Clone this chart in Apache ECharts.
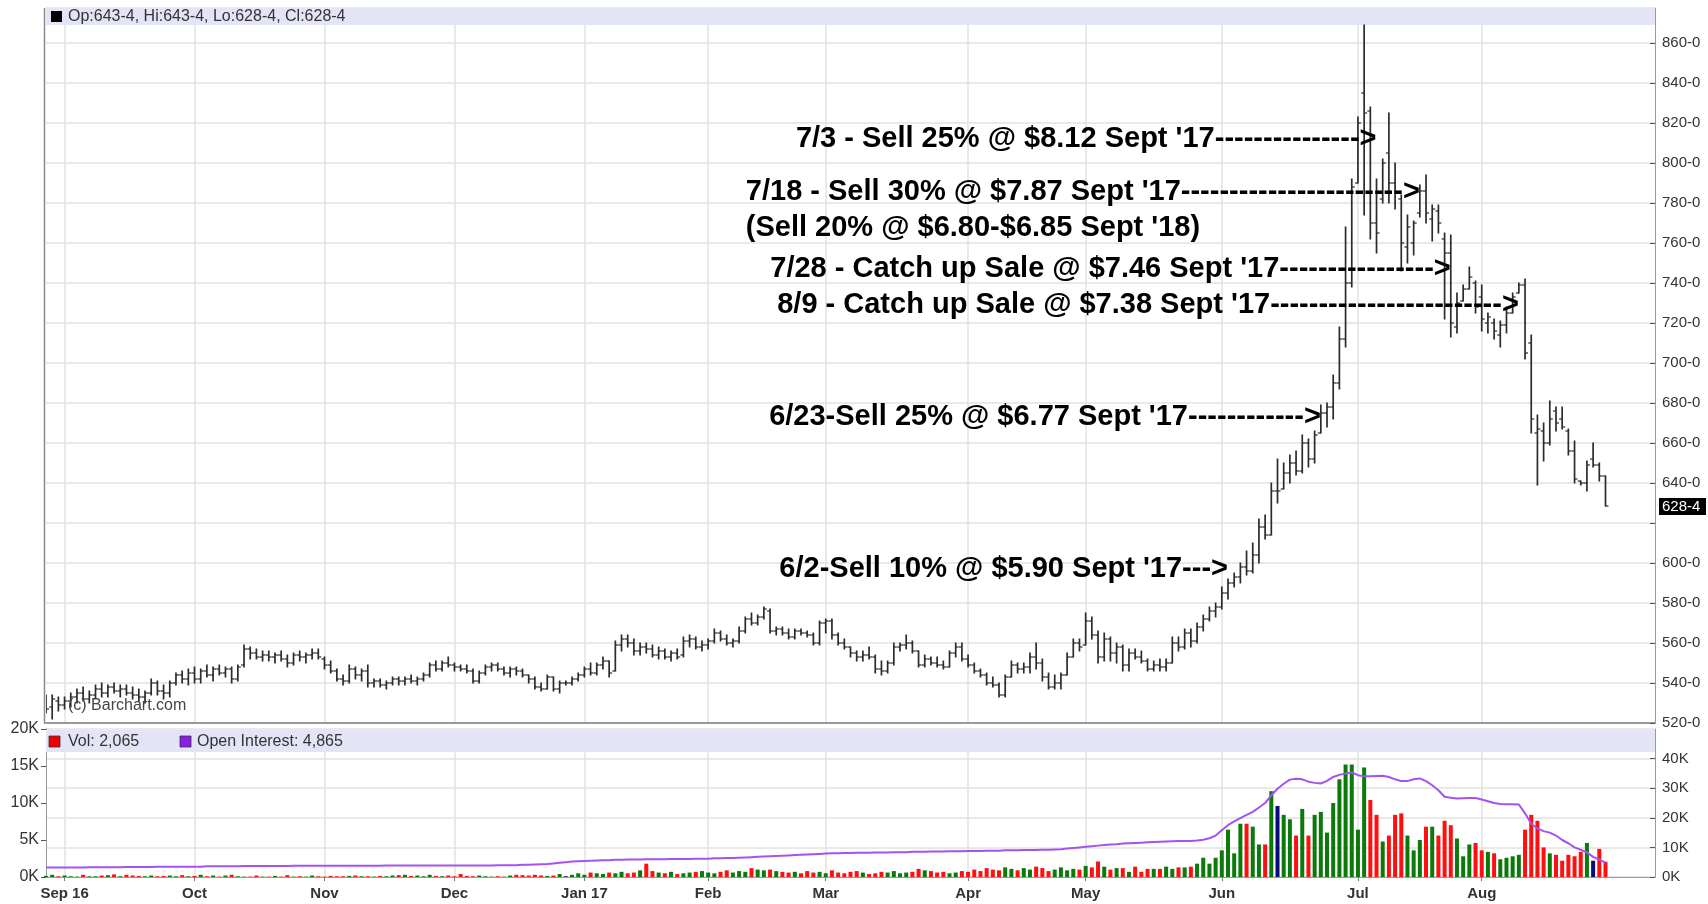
<!DOCTYPE html>
<html><head><meta charset="utf-8">
<script src="https://cdn.jsdelivr.net/npm/echarts@6/dist/echarts.min.js"></script>
<style>html,body{margin:0;padding:0;background:#fff}#c{width:1708px;height:904px}</style>
</head><body><div id="c"></div>
<script>
// ---------- DATA ----------
const firstDate = '2016-08-29', lastDate = '2017-08-29';
const holidays = ['2016-09-05','2016-11-24','2016-12-26','2017-01-02','2017-01-16','2017-02-20','2017-04-14','2017-05-29','2017-07-04'];
const monthNames = ['Jan','Feb','Mar','Apr','May','Jun','Jul','Aug','Sep','Oct','Nov','Dec'];
const priceTicks = [520,540,560,580,600,620,640,660,680,700,720,740,760,780,800,820,840,860];

// OHLC [open, high, low, close], one row per trading day
const ohlcAug16 = [[530,534,525,527],[528,534,522,532],[531,533,526,529]];
const ohlcSep16 = [[529,533,527,531],[531,535,528,533],[533,537,530,535],[535,538,531,532],[532,536,530,534],[534,539,532,537],[537,540,533,535],[535,539,533,538],[538,540,535,536],[536,539,533,537],[537,539,534,535],[535,538,532,534],[534,537,531,533],[533,536,530,535],[535,542,534,540],[540,541,534,536],[536,539,532,535],[535,541,533,540],[540,545,539,544],[544,546,540,542],[542,547,539,545]];
const ohlcOct16 = [[545,548,540,542],[542,547,540,546],[546,549,543,544],[544,548,541,547],[547,549,544,545],[545,548,543,547],[547,548,540,542],[542,549,541,548],[549,559,548,557],[557,558,552,555],[555,557,552,553],[553,556,551,554],[554,556,551,553],[553,555,550,554],[554,556,551,552],[552,554,548,550],[550,555,549,554],[554,556,551,553],[553,555,550,554],[554,557,552,555],[555,557,552,553]];
const ohlcNov16 = [[552,553,547,549],[549,551,545,546],[546,547,541,542],[542,544,539,541],[541,549,540,547],[547,548,542,544],[544,547,541,546],[546,549,538,540],[540,542,538,541],[541,542,538,539],[539,541,537,540],[540,543,539,542],[542,543,539,541],[541,543,539,542],[542,544,540,541],[541,543,539,542],[542,545,541,544],[544,550,543,549],[549,551,546,547],[547,551,546,550],[550,553,548,549]];
const ohlcDec16 = [[549,550,546,548],[548,549,546,547],[547,549,545,546],[546,547,540,541],[541,546,540,545],[545,549,544,548],[548,550,546,549],[549,550,546,547],[547,548,544,545],[545,548,543,547],[547,548,544,546],[546,547,543,544],[544,544,540,542],[542,543,537,538],[538,540,536,537],[537,544,537,543],[543,543,536,537],[537,541,535,540],[540,541,539,540],[540,543,539,542],[542,545,541,544]];
const ohlcJan17 = [[544,548,543,547],[547,550,544,545],[545,550,544,549],[549,553,547,551],[551,551,543,545],[546,561,546,559],[559,564,556,562],[562,564,558,560],[560,562,554,556],[556,560,554,558],[558,560,555,557],[557,559,553,554],[554,558,552,556],[556,557,552,553],[553,556,551,555],[555,557,552,553],[554,563,553,561],[561,564,558,562],[562,563,557,558],[558,561,556,559]];
const ohlcFeb17 = [[559,562,557,561],[561,567,560,565],[565,566,561,562],[562,564,559,560],[560,562,558,561],[561,568,560,566],[566,573,565,572],[572,575,569,570],[570,574,569,573],[573,578,572,577],[576,577,565,566],[566,568,564,567],[567,568,564,565],[565,567,562,563],[563,567,562,566],[566,567,564,565],[565,566,563,564],[564,565,559,560],[560,571,559,570]];
const ohlcMar17 = [[570,572,565,571],[571,572,562,564],[564,565,559,560],[560,562,557,558],[558,558,553,555],[555,556,551,553],[553,556,551,554],[554,558,552,553],[553,554,545,547],[547,551,544,546],[546,551,545,550],[550,560,549,558],[558,560,556,559],[559,564,557,560],[560,561,555,556],[556,556,548,549],[549,554,548,552],[552,553,549,550],[550,553,548,549],[549,551,547,548],[548,556,548,555],[555,560,553,558],[558,560,551,552]];
const ohlcApr17 = [[552,554,548,549],[549,550,545,546],[546,547,543,544],[544,545,539,540],[540,543,538,539],[539,540,533,534],[534,544,533,543],[543,551,543,549],[549,550,545,547],[547,550,545,548],[548,555,545,553],[553,560,547,550],[550,552,541,543],[543,545,537,538],[538,544,537,540],[540,545,537,544],[544,555,544,553],[553,562,553,560],[560,562,556,558]];
const ohlcMay17 = [[559,575,559,571],[571,573,562,564],[564,566,550,553],[553,565,551,562],[562,563,551,555],[555,560,550,558],[558,559,546,549],[549,557,546,555],[555,557,552,553],[553,556,550,551],[551,552,546,547],[547,551,546,549],[549,552,546,548],[548,552,546,550],[550,563,550,560],[560,563,556,558],[558,567,557,565],[565,567,558,561],[561,570,560,568],[568,574,566,572],[572,578,571,576],[576,580,573,578]];
const ohlcJun17 = [[578,588,577,585],[585,592,582,590],[590,595,588,593],[593,600,590,598],[598,606,594,596],[596,610,595,604],[604,622,600,618],[618,624,612,614],[614,640,614,636],[636,652,630,636],[637,650,637,645],[645,654,640,650],[650,656,644,646],[646,664,645,660],[660,662,648,652],[652,666,650,664],[665,679,665,675],[675,680,668,678],[678,694,672,690],[690,718,687,712],[712,768,708,740],[740,792,738,788]];
const ohlcJul17 = [[790,823,790,820],[835,869,774,825],[826,828,762,770],[770,792,755,765],[782,802,780,800],[805,825,780,790],[790,800,777,785],[782,784,746,760],[758,774,750,768],[760,771,754,770],[775,789,773,786],[786,794,770,775],[772,779,761,777],[776,779,765,770],[762,765,722,755],[755,764,713,720],[718,735,715,730],[731,739,731,737],[737,748,737,743],[740,741,725,728]];
const ohlcAug17 = [[733,739,716,722],[720,725,715,723],[720,722,712,716],[714,721,708,719],[719,728,715,725],[725,735,725,733],[735,740,735,739],[739,742,702,705],[710,714,665,672],[665,674,639,667],[666,670,651,660],[660,681,659,672],[676,678,666,670],[672,678,667,668],[666,667,654,656],[656,661,640,642],[641,641,639,640],[640,651,636,649],[652,660,648,649],[649,650,641,643.5],[643.5,643.5,628.5,628.5]];

// Volume (thousands of contracts, left axis)
const volAug16 = [0.15,0.3,0.1];
const volSep16 = [0.2,0.1,0.05,0.3,0.1,0.1,0.2,0.25,0.35,0.1,0.3,0.2,0.15,0.1,0.2,0.1,0.15,0.2,0.1,0.25,0.1];
const volOct16 = [0.15,0.3,0.1,0.2,0.05,0.2,0.3,0.1,0.05,0.05,0.2,0.05,0.05,0.15,0.05,0.25,0.05,0.1,0.05,0.2,0.1];
const volNov16 = [0.05,0.15,0.1,0.1,0.15,0.2,0.1,0.1,0.05,0.15,0.1,0.2,0.25,0.3,0.15,0.2,0.1,0.3,0.15,0.1,0.2];
const volDec16 = [0.1,0.4,0.15,0.1,0.2,0.1,0.05,0.1,0.05,0.2,0.3,0.25,0.2,0.3,0.2,0.15,0.2,0.4,0.1,0.3,0.5];
const volJan17 = [0.3,0.6,0.5,0.4,0.6,0.5,0.7,0.5,0.6,0.9,1.8,0.8,0.6,0.5,0.7,0.4,0.5,0.6,0.7,0.8];
const volFeb17 = [0.6,0.5,0.7,0.9,0.6,0.8,0.7,1.2,1.0,0.9,1.0,0.8,0.7,0.6,0.7,0.5,0.8,0.6,0.7];
const volMar17 = [0.5,0.9,0.6,0.5,0.7,0.8,0.6,0.4,0.5,0.7,0.6,0.8,0.5,0.6,0.7,1.1,0.9,0.8,0.6,0.7,0.5,0.6,0.8];
const volApr17 = [0.7,1.0,0.8,1.2,1.0,0.9,1.3,1.1,0.9,1.2,1.0,1.4,1.2,0.8,1.0,1.3,0.9,1.1,1.0];
const volMay17 = [1.5,1.3,2.1,1.4,1.0,1.2,1.2,0.7,1.4,0.7,1.1,1.1,1.1,1.4,1.1,1.3,1.3,1.4,1.8,2.6,1.8,2.6];
const volJun17 = [3.6,6.4,3.2,7.2,7.2,6.8,4.4,4.4,11.6,9.6,8.4,7.8,5.6,9.2,5.6,8.4,8.8,6.0,10.0,13.2,15.2,15.2];
const volJul17 = [6.4,14.8,10.4,8.4,4.8,5.6,8.4,8.6,5.6,3.6,5.0,6.8,6.8,5.6,7.6,7.0,5.2,2.8,4.4,4.6];
const volAug17 = [3.6,3.4,3.2,2.4,2.6,2.8,3.0,6.4,8.4,7.6,4.0,3.2,3.0,2.2,3.0,2.8,3.4,4.6,2.2,3.8,2.065];

// Open interest (thousands, right axis)
const oiAug16 = [3.2,3.2,3.2];
const oiSep16 = [3.2,3.2,3.2,3.2,3.3,3.3,3.3,3.3,3.3,3.3,3.4,3.4,3.4,3.4,3.4,3.5,3.5,3.5,3.5,3.5,3.5];
const oiOct16 = [3.5,3.5,3.6,3.6,3.6,3.6,3.6,3.6,3.7,3.7,3.7,3.7,3.7,3.7,3.7,3.7,3.8,3.8,3.8,3.8,3.8];
const oiNov16 = [3.8,3.8,3.8,3.8,3.8,3.8,3.8,3.8,3.8,3.8,3.9,3.9,3.9,3.9,3.9,3.9,3.9,3.9,3.9,3.9,3.9];
const oiDec16 = [3.9,3.9,3.9,3.9,3.9,3.9,3.9,4.0,4.0,4.0,4.0,4.1,4.1,4.2,4.3,4.4,4.6,4.8,5.0,5.2,5.3];
const oiJan17 = [5.4,5.5,5.6,5.7,5.7,5.8,5.8,5.9,5.9,5.9,6.0,6.0,6.0,6.0,6.1,6.1,6.1,6.1,6.2,6.2];
const oiFeb17 = [6.2,6.3,6.3,6.4,6.4,6.5,6.6,6.7,6.8,6.9,7.0,7.1,7.2,7.3,7.4,7.5,7.6,7.7,7.8];
const oiMar17 = [7.9,8.0,8.0,8.1,8.1,8.2,8.2,8.2,8.3,8.3,8.3,8.4,8.4,8.4,8.5,8.5,8.5,8.6,8.6,8.6,8.7,8.7,8.7];
const oiApr17 = [8.8,8.8,8.8,8.9,8.9,8.9,9.0,9.0,9.0,9.1,9.1,9.1,9.2,9.2,9.3,9.4,9.6,9.8,10.0];
const oiMay17 = [10.2,10.4,10.6,10.8,11.0,11.1,11.3,11.4,11.5,11.6,11.7,11.8,11.9,12.0,12.1,12.2,12.2,12.2,12.3,12.6,13.1,14.0];
const oiJun17 = [15.8,17.5,18.8,19.9,21.0,22.0,23.5,25.0,27.6,29.8,31.5,32.9,33.2,33.0,32.2,31.8,31.6,32.5,33.8,34.5,35.0,35.3];
const oiJul17 = [34.4,34.0,34.0,34.1,34.2,33.8,33.0,32.4,32.4,33.0,33.3,32.4,31.0,29.3,27.1,26.8,26.5,26.6,26.7,26.7];
const oiAug17 = [26.2,25.6,25.0,24.7,24.6,24.6,24.5,21.5,18.0,16.4,15.5,15.0,14.0,12.5,11.4,10.0,9.2,8.3,6.8,5.9,4.865];

// Annotations: arrow tip at (date, price)
const annotations = [
  {date:'2017-07-07', price:813,   text:"7/3 - Sell 25% @ $8.12 Sept '17--------------->"},
  {date:'2017-07-18', price:786.5, text:"7/18 - Sell 30% @ $7.87 Sept '17----------------------->"},
  {date:'2017-07-25', price:748,   text:"7/28 - Catch up Sale @ $7.46 Sept '17---------------->"},
  {date:'2017-08-09', price:730,   text:"8/9 - Catch up Sale @ $7.38 Sept '17------------------------>"},
  {date:'2017-06-23', price:674,   text:"6/23-Sell 25% @ $6.77 Sept '17------------>"},
  {date:'2017-06-02', price:598,   text:"6/2-Sell 10% @ $5.90 Sept '17--->"}
];
const subNote = {below:1, price:769.5, text:"(Sell 20% @ $6.80-$6.85 Sept '18)"};

// ---------- BUILD ----------
const ohlc = [].concat(ohlcAug16,ohlcSep16,ohlcOct16,ohlcNov16,ohlcDec16,ohlcJan17,ohlcFeb17,ohlcMar17,ohlcApr17,ohlcMay17,ohlcJun17,ohlcJul17,ohlcAug17);
const volume = [].concat(volAug16,volSep16,volOct16,volNov16,volDec16,volJan17,volFeb17,volMar17,volApr17,volMay17,volJun17,volJul17,volAug17);
const openInt = [].concat(oiAug16,oiSep16,oiOct16,oiNov16,oiDec16,oiJan17,oiFeb17,oiMar17,oiApr17,oiMay17,oiJun17,oiJul17,oiAug17);

const dates = [];
(function(){
  let d = new Date(firstDate + 'T00:00:00Z');
  const end = new Date(lastDate + 'T00:00:00Z');
  while (d <= end) {
    const s = d.toISOString().slice(0,10);
    const wd = d.getUTCDay();
    if (wd !== 0 && wd !== 6 && holidays.indexOf(s) < 0) dates.push(s);
    d = new Date(d.getTime() + 86400000);
  }
})();
const PAD = 8;
const cats = dates.concat(Array.from({length:PAD}, (_, k) => '~' + k));

function isMonthStart(i) {
  return i > 0 && i < dates.length && dates[i].slice(0,7) !== dates[i-1].slice(0,7);
}
function monthLabel(s) {
  const m = +s.slice(5,7) - 1;
  const yy = s.slice(2,4);
  if (m === 0 || s.slice(0,7) === '2016-09') return monthNames[m] + ' ' + yy;
  return monthNames[m];
}
function fmt8(p) { const w = Math.floor(p); return w + '-' + Math.round((p - w) * 8); }

const volData = volume.map((v, i) => {
  let col = '#0b7a0b';
  if (i > 0) {
    if (ohlc[i][3] < ohlc[i-1][3]) col = '#ff1010';
    else if (ohlc[i][3] === ohlc[i-1][3]) col = '#0a0a7a';
  }
  return {value: v, itemStyle: {color: col}};
});

const FONT = '"Liberation Sans", Arial, sans-serif';
const L = 46, R = 1655;
const gridLineColor = '#e2e2e2';

function renderOHLC(params, api) {
  const i = api.value(0);
  const pO = api.coord([i, api.value(1)]);
  const pH = api.coord([i, api.value(2)]);
  const pL = api.coord([i, api.value(3)]);
  const pC = api.coord([i, api.value(4)]);
  const x = pH[0];
  const w = 3;
  return {type: 'group', children: [
    {type: 'line', shape: {x1: x, y1: pH[1] - 0.5, x2: x, y2: pL[1] + 0.5}, style: {stroke: '#2b2b2b', lineWidth: 1.7}},
    {type: 'line', shape: {x1: x - w, y1: pO[1], x2: x, y2: pO[1]}, style: {stroke: '#2b2b2b', lineWidth: 1.2}},
    {type: 'line', shape: {x1: x, y1: pC[1], x2: x + w, y2: pC[1]}, style: {stroke: '#2b2b2b', lineWidth: 1.2}}
  ]};
}

const option = {
  animation: false,
  backgroundColor: '#fff',
  textStyle: {fontFamily: FONT},
  grid: [
    {left: L, right: 1708 - R, top: 8, height: 715, show: false},
    {left: L, right: 1708 - R, top: 729, height: 148, show: false}
  ],
  xAxis: [
    {type: 'category', gridIndex: 0, data: cats, boundaryGap: false,
     axisLine: {show: true, lineStyle: {color: '#9a9a9a', width: 2}},
     axisTick: {show: false}, axisLabel: {show: false},
     splitLine: {show: true, interval: (i) => isMonthStart(i), lineStyle: {color: gridLineColor, width: 1.5}}},
    {type: 'category', gridIndex: 1, data: cats, boundaryGap: false,
     axisLine: {show: true, lineStyle: {color: '#9a9a9a', width: 1}},
     axisTick: {show: true, interval: (i) => isMonthStart(i), length: 4, lineStyle: {color: '#777'}},
     axisLabel: {show: true, interval: (i) => isMonthStart(i), formatter: (v) => monthLabel(v),
                 color: '#333', fontWeight: 'bold', fontSize: 15, margin: 9, fontFamily: FONT},
     splitLine: {show: true, interval: (i) => isMonthStart(i), lineStyle: {color: gridLineColor, width: 1.5}}}
  ],
  yAxis: [
    {type: 'value', gridIndex: 0, position: 'right', min: priceTicks[0], max: 877.5, interval: 20,
     axisLine: {show: true, lineStyle: {color: '#9a9a9a'}},
     axisTick: {show: true, inside: true, length: 5, lineStyle: {color: '#555'}},
     axisLabel: {color: '#333', fontSize: 15, margin: 7, showMaxLabel: false, fontFamily: FONT,
                 formatter: (v) => (v === 620 || priceTicks.indexOf(v) < 0) ? '' : v + '-0'},
     splitLine: {show: true, lineStyle: {color: gridLineColor, width: 1.5}}},
    {type: 'value', gridIndex: 1, position: 'left', min: 0, max: 20, interval: 5,
     axisLine: {show: true, lineStyle: {color: '#9a9a9a'}},
     axisTick: {show: true, inside: false, length: 5, lineStyle: {color: '#555'}},
     axisLabel: {color: '#333', fontSize: 16, margin: 7, formatter: (v) => v + 'K', fontFamily: FONT},
     splitLine: {show: false}},
    {type: 'value', gridIndex: 1, position: 'right', min: 0, max: 50, interval: 10,
     axisLine: {show: true, lineStyle: {color: '#9a9a9a'}},
     axisTick: {show: true, inside: true, length: 5, lineStyle: {color: '#555'}},
     axisLabel: {color: '#333', fontSize: 15, margin: 7, showMaxLabel: false, formatter: (v) => v + 'K', fontFamily: FONT},
     splitLine: {show: true, lineStyle: {color: gridLineColor, width: 1.5}}}
  ],
  series: [
    {name: 'Price', type: 'custom', xAxisIndex: 0, yAxisIndex: 0, renderItem: renderOHLC,
     data: ohlc.map((d, i) => [i, d[0], d[1], d[2], d[3]]), encode: {x: 0, y: [1, 2, 3, 4]}, clip: true, z: 5},
    {name: 'Vol', type: 'bar', xAxisIndex: 1, yAxisIndex: 1, data: volData, barWidth: 4, z: 3},
    {name: 'Open Interest', type: 'line', xAxisIndex: 1, yAxisIndex: 2, data: openInt, showSymbol: false, symbol: 'none',
     lineStyle: {color: '#a552f2', width: 2}, z: 4}
  ]
};

const chart = echarts.init(document.getElementById('c'), null, {renderer: 'canvas'});
chart.setOption(option);

// ---------- overlay texts ----------
const last = ohlc[ohlc.length - 1];
const g = [];
g.push({type: 'line', shape: {x1: L - 1.5, y1: 8, x2: L - 1.5, y2: 724}, style: {stroke: '#8a8a8a', lineWidth: 1.5}, z: 3, silent: true});
g.push({type: 'rect', shape: {x: L, y: 8, width: R - L, height: 17}, style: {fill: '#e4e4f7'}, z: 2, silent: true});
g.push({type: 'rect', shape: {x: 51, y: 11, width: 11, height: 11}, style: {fill: '#000'}, z: 10});
g.push({type: 'text', x: 68, y: 17, z: 10, style: {text: 'Op:' + fmt8(last[0]) + ', Hi:' + fmt8(last[1]) + ', Lo:' + fmt8(last[2]) + ', Cl:' + fmt8(last[3]),
        fill: '#333', font: '16px ' + FONT, verticalAlign: 'middle', align: 'left'}});
g.push({type: 'rect', shape: {x: L, y: 730, width: R - L, height: 22}, style: {fill: '#e4e4f7'}, z: 2, silent: true});
g.push({type: 'rect', shape: {x: 49, y: 736, width: 11, height: 11}, style: {fill: '#ee0000', stroke: '#333', lineWidth: 0.8}, z: 10});
g.push({type: 'text', x: 68, y: 742, z: 10, style: {text: 'Vol: ' + Math.round(volume[volume.length - 1] * 1000).toLocaleString('en-US'),
        fill: '#333', font: '16px ' + FONT, verticalAlign: 'middle'}});
g.push({type: 'rect', shape: {x: 180, y: 736, width: 11, height: 11}, style: {fill: '#8a1ee6', stroke: '#333', lineWidth: 0.8}, z: 10});
g.push({type: 'text', x: 197, y: 742, z: 10, style: {text: 'Open Interest: ' + Math.round(openInt[openInt.length - 1] * 1000).toLocaleString('en-US'),
        fill: '#333', font: '16px ' + FONT, verticalAlign: 'middle'}});
g.push({type: 'text', x: 68, y: 706, z: 6, style: {text: '(c) Barchart.com', fill: '#444', font: '16px ' + FONT, verticalAlign: 'middle'}});

// last price box
const lp = chart.convertToPixel({gridIndex: 0}, [dates.length - 1, last[3]]);
g.push({type: 'rect', shape: {x: R + 4, y: lp[1] - 8, width: 47, height: 17}, style: {fill: '#000'}, z: 10});
g.push({type: 'text', x: R + 7, y: lp[1] + 0.5, z: 11, style: {text: fmt8(last[3]), fill: '#fff', font: '15px ' + FONT, verticalAlign: 'middle'}});

// annotations
const annFont = 'bold 29px ' + FONT;
const mctx = document.createElement('canvas').getContext('2d');
mctx.font = annFont;
const tips = annotations.map(a => chart.convertToPixel({gridIndex: 0}, [dates.indexOf(a.date), a.price]));
const TEXT_DY = 2;
annotations.forEach((a, k) => {
  g.push({type: 'text', x: tips[k][0], y: tips[k][1] + TEXT_DY, z: 20,
          style: {text: a.text, fill: '#000', font: annFont, align: 'right', verticalAlign: 'middle'}});
});
(function(){
  const k = subNote.below;
  const leftX = tips[k][0] - mctx.measureText(annotations[k].text).width;
  const y = chart.convertToPixel({gridIndex: 0}, [0, subNote.price])[1];
  g.push({type: 'text', x: leftX, y: y + TEXT_DY + 2, z: 20, style: {text: subNote.text, fill: '#000', font: annFont, align: 'left', verticalAlign: 'middle'}});
})();

chart.setOption({graphic: g});
</script></body></html>
